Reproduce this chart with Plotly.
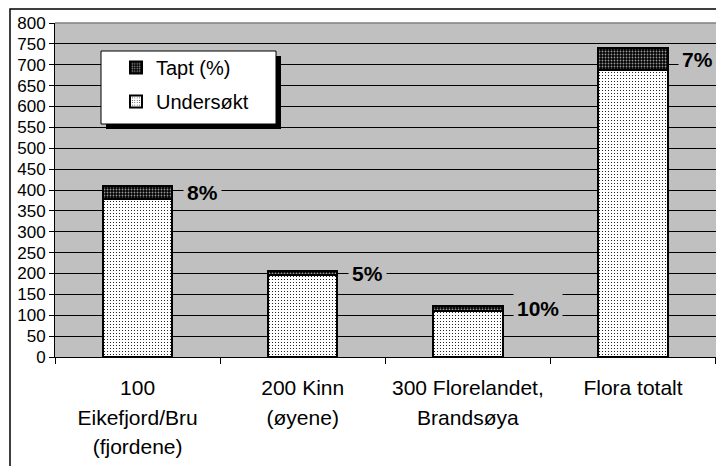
import plotly.graph_objects as go

# ---- data ----
categories = ["100 Eikefjord/Bru (fjordene)", "200 Kinn (øyene)",
              "300 Florelandet, Brandsøya", "Flora totalt"]
tick_labels = ["100<br>Eikefjord/Bru<br>(fjordene)", "200 Kinn<br>(øyene)",
               "300 Florelandet,<br>Brandsøya", "Flora totalt"]
undersokt = [378, 196, 109, 687]
tapt = [32, 10, 12, 52]
tapt_pct = ["8%", "5%", "10%", "7%"]

# ---- layout constants (page body has an 8px offset) ----
W, H = 724, 466
OFF = 8
ML, MR, MT, MB = 55 - OFF, 724 - 717 + OFF, 23 - OFF, 466 - 357 + OFF
PW, PH = W - ML - MR, H - MT - MB
FONT = "Liberation Sans, Arial, sans-serif"


def px_x(x):
    return (x - OFF - ML) / PW


def px_y(y):
    return (H - MB - (y - OFF)) / PH


def styled_label(label):
    lines = label.split("<br>")
    return "<br>".join('<span style="font-size:21px">' + ln + "</span>"
                       for ln in lines)


fig = go.Figure()
fig.add_trace(go.Bar(
    x=categories, y=undersokt, name="Undersøkt", width=0.42,
    legendgroup="u", legendrank=2,
    marker=dict(color="white", line=dict(color="black", width=2),
                pattern=dict(shape=".", bgcolor="white", fgcolor="black",
                             size=3, solidity=0.12, fillmode="replace")),
))
fig.add_trace(go.Bar(
    x=categories, y=tapt, name="Tapt (%)", width=0.42,
    legendgroup="t", legendrank=1,
    marker=dict(color="black", line=dict(color="black", width=2),
                pattern=dict(shape=".", bgcolor="black", fgcolor="#9a9a9a",
                             size=3, solidity=0.3, fillmode="replace")),
))

for c, u, t, p in zip(categories, undersokt, tapt, tapt_pct):
    fig.add_annotation(
        x=c, y=u + t / 2, text="<b>" + p + "</b>", showarrow=False,
        xanchor="left", yanchor="middle", xshift=45,
        font=dict(family=FONT, size=21, color="black"),
        bgcolor="#C0C0C0", borderpad=3,
    )

shapes = [
    # outer chart border
    dict(type="rect", xref="paper", yref="paper",
         x0=px_x(10), x1=px_x(W + 30), y0=px_y(H + 30), y1=px_y(9),
         line=dict(color="black", width=1.5), layer="below"),
    # plot area top/right border
    dict(type="line", xref="paper", yref="paper", x0=0, x1=1, y0=1, y1=1,
         line=dict(color="#808080", width=1.5), layer="above"),
    dict(type="line", xref="paper", yref="paper", x0=1, x1=1, y0=0, y1=1,
         line=dict(color="#808080", width=1.5), layer="above"),
    # legend shadow + box
    dict(type="rect", xref="paper", yref="paper",
         x0=px_x(106), x1=px_x(281), y0=px_y(129), y1=px_y(56),
         fillcolor="black", line=dict(width=0), layer="above"),
    dict(type="rect", xref="paper", yref="paper",
         x0=px_x(101), x1=px_x(276), y0=px_y(124), y1=px_y(51),
         fillcolor="white", line=dict(color="black", width=1), layer="above"),
]

fig.update_layout(
    width=W, height=H,
    margin=dict(l=ML, r=MR, t=MT, b=MB, pad=0),
    barmode="stack",
    paper_bgcolor="white", plot_bgcolor="#C0C0C0",
    font=dict(family=FONT, color="black"),
    shapes=shapes,
    showlegend=True,
    legend=dict(x=px_x(116), y=px_y(48), xanchor="left", yanchor="top",
                bgcolor="rgba(0,0,0,0)", borderwidth=0,
                traceorder="grouped", tracegroupgap=5,
                font=dict(family=FONT, size=20, color="black")),
    xaxis=dict(tickmode="array", tickvals=categories,
               ticktext=[styled_label(t) for t in tick_labels],
               tickson="boundaries", ticks="outside", ticklen=6,
               tickcolor="black", showline=True, linecolor="black",
               linewidth=1, showgrid=False, automargin=False,
               ticklabelstandoff=9,
               tickfont=dict(family=FONT, size=23, color="black")),
    yaxis=dict(range=[0, 800], dtick=50, ticks="outside", ticklen=5,
               tickcolor="black", showline=True, linecolor="black",
               linewidth=1, showgrid=True, gridcolor="black", gridwidth=1,
               zeroline=False, automargin=False,
               tickfont=dict(family=FONT, size=17, color="black")),
)

fig.write_html("out.html")
